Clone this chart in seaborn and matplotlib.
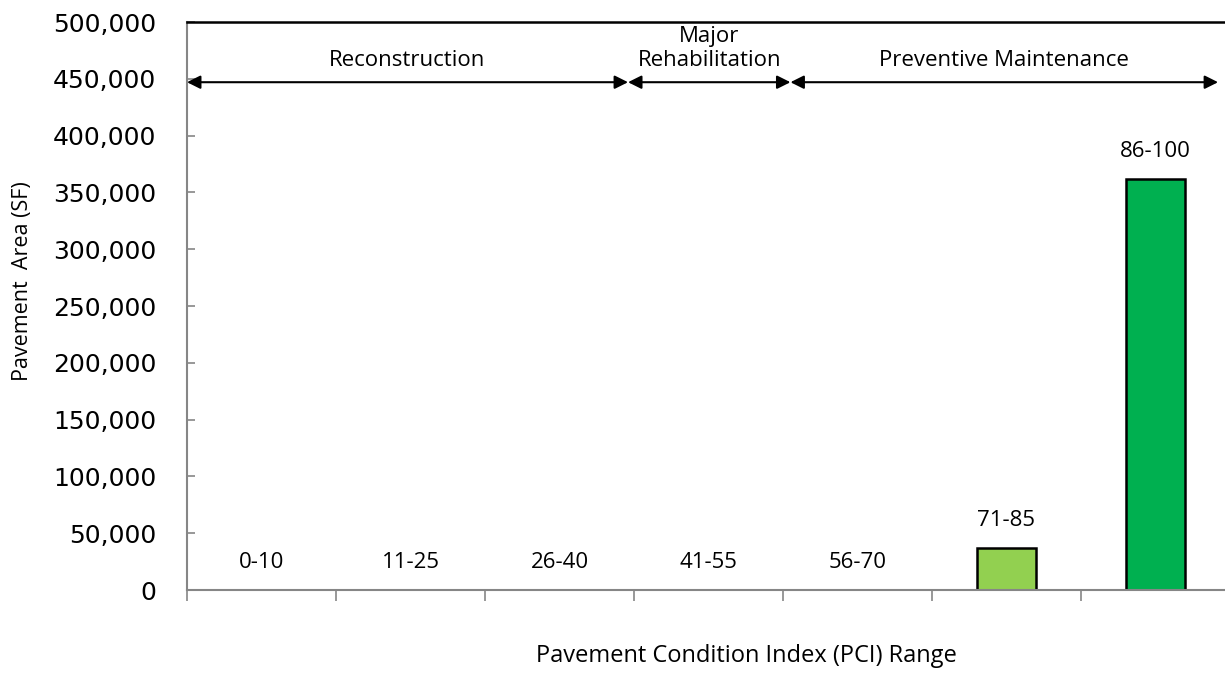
import matplotlib
matplotlib.use("Agg")
import matplotlib.pyplot as plt
import seaborn as sns
import pandas as pd
from matplotlib.ticker import FuncFormatter, MultipleLocator

# PCI ranges and pavement area (SF)
pci_ranges = ['0-10', '11-25', '26-40', '41-55', '56-70', '71-85', '86-100']
area_sf = [0, 0, 0, 0, 0, 37000, 362000]
bar_colors = ['#C00000', '#FF0000', '#FFC000', '#FFFF00', '#00B0F0', '#92D050', '#00B050']

# treatment bands: (label, start, end) in category positions
bands = [('Reconstruction', -0.5, 2.46),
         ('Major\nRehabilitation', 2.46, 3.55),
         ('Preventive Maintenance', 3.55, 6.42)]

df = pd.DataFrame({'pci': pci_ranges, 'area': area_sf})

sns.set_style("white")
plt.rcParams['font.family'] = ['Open Sans', 'DejaVu Sans']
plt.rcParams['text.color'] = 'black'

fig = plt.figure(figsize=(12.25, 6.75), dpi=100)
ax = fig.add_axes([187/1225, 1 - 590/675, 1043/1225, 568/675])

sns.barplot(data=df, x='pci', y='area', hue='pci', palette=bar_colors,
            saturation=1, width=0.4, edgecolor='black', linewidth=1.8,
            legend=False, ax=ax)

for p in ax.patches:
    if p.get_height() == 0:
        p.set_linewidth(0)

# category labels above the bars
for i, (lab, v) in enumerate(zip(pci_ranges, area_sf)):
    ax.annotate(lab, (i, v), xytext=(0, 19.5), textcoords='offset points',
                ha='center', va='center', fontsize=16, color='black')

ax.set_xlim(-0.5, len(pci_ranges) - 0.5)
ax.set_ylim(0, 500000)
ax.yaxis.set_major_locator(MultipleLocator(50000))
ax.yaxis.set_major_formatter(FuncFormatter(lambda v, _: f'{int(v):,}'))
ax.set_xticks([i + 0.5 for i in range(-1, len(pci_ranges))])
ax.set_xticklabels([])
ax.tick_params(axis='x', bottom=True, direction='out', length=8, width=1.2,
               color='#868686')
ax.tick_params(axis='y', left=True, direction='in', length=6, width=1.2,
               color='#868686', pad=22, labelcolor='black')
for t in ax.get_yticklabels():
    t.set_fontfamily('DejaVu Sans')
    t.set_fontsize(18)

ax.spines['left'].set_color('#868686')
ax.spines['left'].set_linewidth(1.5)
ax.spines['bottom'].set_color('#868686')
ax.spines['bottom'].set_linewidth(1.5)
ax.spines['top'].set_color('black')
ax.spines['top'].set_linewidth(1.8)
ax.spines['right'].set_visible(False)

ax.set_xlabel('')
ax.set_ylabel('')
fig.text(23/1225, 1 - 281/675, 'Pavement  Area (SF)', rotation=90,
         ha='center', va='center', fontsize=15.5)
fig.text(746/1225, 1 - 656/675, 'Pavement Condition Index (PCI) Range',
         ha='center', va='center', fontsize=17)

# treatment band arrows
for lab, x0, x1 in bands:
    ax.annotate('', xy=(x0, 447000), xytext=(x1, 447000),
                arrowprops=dict(arrowstyle='<|-|>', color='black', lw=1.5,
                                mutation_scale=20, shrinkA=0, shrinkB=0))
    ax.text((x0 + x1) / 2, 461500, lab, ha='center', va='baseline',
            fontsize=16, linespacing=1.15)

fig.savefig('out.png', dpi=100)
